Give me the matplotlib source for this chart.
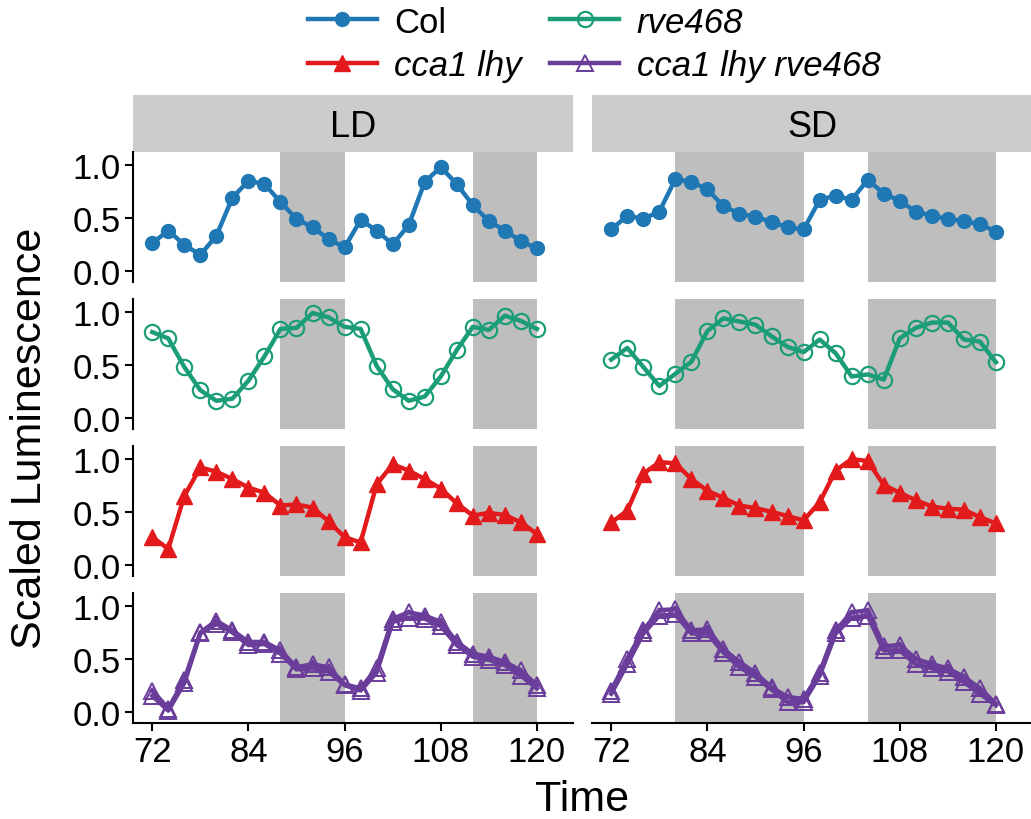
import matplotlib
matplotlib.use("Agg")
import matplotlib.pyplot as plt
from matplotlib.lines import Line2D

plt.rcParams['font.family'] = ['Liberation Sans', 'DejaVu Sans']

# --- data ---
time = [72, 74, 76, 78, 80, 82, 84, 86, 88, 90, 92, 94, 96,
        98, 100, 102, 104, 106, 108, 110, 112, 114, 116, 118, 120]

col_ld = [0.26, 0.38, 0.245, 0.15, 0.33, 0.69, 0.85, 0.82, 0.65, 0.49, 0.41, 0.30, 0.22,
          0.48, 0.38, 0.25, 0.43, 0.84, 0.98, 0.82, 0.62, 0.47, 0.38, 0.28, 0.21]
col_sd = [0.39, 0.52, 0.49, 0.56, 0.865, 0.84, 0.77, 0.61, 0.54, 0.51, 0.46, 0.41, 0.39,
          0.67, 0.71, 0.67, 0.86, 0.73, 0.66, 0.56, 0.52, 0.49, 0.47, 0.44, 0.37]

rve_ld = [0.81, 0.75, 0.48, 0.26, 0.16, 0.18, 0.35, 0.58, 0.84, 0.85, 0.99, 0.95, 0.86,
          0.84, 0.49, 0.27, 0.16, 0.20, 0.39, 0.64, 0.86, 0.83, 0.965, 0.915, 0.84]
rve_sd = [0.55, 0.66, 0.48, 0.30, 0.415, 0.53, 0.82, 0.94, 0.91, 0.88, 0.77, 0.67, 0.62,
          0.74, 0.61, 0.39, 0.41, 0.36, 0.75, 0.85, 0.90, 0.90, 0.74, 0.72, 0.525]

cl_ld = [0.26, 0.15, 0.65, 0.92, 0.88, 0.81, 0.73, 0.68, 0.56, 0.57, 0.54, 0.41, 0.26,
         0.21, 0.76, 0.95, 0.89, 0.81, 0.72, 0.58, 0.465, 0.49, 0.47, 0.40, 0.29]
cl_sd = [0.40, 0.51, 0.86, 0.97, 0.96, 0.81, 0.70, 0.63, 0.56, 0.535, 0.50, 0.46, 0.42,
         0.59, 0.89, 1.00, 0.98, 0.755, 0.68, 0.61, 0.55, 0.53, 0.52, 0.45, 0.39]

# two replicate lines of the triple mutant
clr_ld_a = [0.20, 0.03, 0.30, 0.75, 0.86, 0.77, 0.66, 0.66, 0.58, 0.42, 0.45, 0.42, 0.26,
            0.22, 0.41, 0.88, 0.94, 0.91, 0.85, 0.66, 0.55, 0.52, 0.47, 0.39, 0.25]
clr_ld_b = [0.15, 0.01, 0.27, 0.74, 0.83, 0.75, 0.63, 0.64, 0.55, 0.40, 0.41, 0.38, 0.25,
            0.20, 0.37, 0.85, 0.89, 0.88, 0.81, 0.63, 0.52, 0.49, 0.44, 0.34, 0.22]
clr_sd_a = [0.20, 0.50, 0.77, 0.96, 0.97, 0.77, 0.78, 0.59, 0.47, 0.365, 0.23, 0.14, 0.12,
            0.37, 0.77, 0.94, 0.96, 0.62, 0.63, 0.50, 0.45, 0.41, 0.33, 0.22, 0.075]
clr_sd_b = [0.17, 0.45, 0.74, 0.91, 0.92, 0.74, 0.74, 0.56, 0.42, 0.33, 0.21, 0.09, 0.09,
            0.34, 0.74, 0.89, 0.91, 0.58, 0.58, 0.45, 0.41, 0.38, 0.28, 0.17, 0.06]

dark_ld = [(88, 96), (112, 120)]
dark_sd = [(80, 96), (104, 120)]

conditions = ["LD", "SD"]
genotypes = ["Col", "rve468", "cca1 lhy", "cca1 lhy rve468"]

series = {
    ("LD", "Col"): [col_ld], ("SD", "Col"): [col_sd],
    ("LD", "rve468"): [rve_ld], ("SD", "rve468"): [rve_sd],
    ("LD", "cca1 lhy"): [cl_ld], ("SD", "cca1 lhy"): [cl_sd],
    ("LD", "cca1 lhy rve468"): [clr_ld_a, clr_ld_b],
    ("SD", "cca1 lhy rve468"): [clr_sd_a, clr_sd_b],
}
darks = {"LD": dark_ld, "SD": dark_sd}

styles = {
    "Col": dict(color="#1f78b4", marker="o", markersize=10, markerfacecolor="#1f78b4"),
    "rve468": dict(color="#1b9e77", marker="o", markersize=11, markerfacecolor="none",
                   markeredgewidth=1.6),
    "cca1 lhy": dict(color="#e31a1c", marker="^", markersize=11, markerfacecolor="#e31a1c"),
    "cca1 lhy rve468": dict(color="#6a3d9a", marker="^", markersize=12, markerfacecolor="none",
                            markeredgewidth=1.4),
}

W, H = 1031, 820
fig = plt.figure(figsize=(W / 100, H / 100), dpi=100)

col_x = [(133, 440), (592, 440)]
row_y = [153, 300, 447, 594]
row_h = 130

for ci, cond in enumerate(conditions):
    x0, w = col_x[ci]
    # strip
    sax = fig.add_axes([x0 / W, 1 - 153 / H, w / W, 57 / H])
    sax.set_facecolor("#cccccc")
    sax.set_xticks([]); sax.set_yticks([])
    for s in sax.spines.values():
        s.set_visible(False)
    sax.text(0.5, 0.45, cond, ha="center", va="center", fontsize=26, transform=sax.transAxes)

    for ri, g in enumerate(genotypes):
        y0 = row_y[ri]
        ax = fig.add_axes([x0 / W, 1 - (y0 + row_h) / H, w / W, row_h / H])
        for a, b in darks[cond]:
            ax.axvspan(a, b, color="#bebebe", lw=0, zorder=0)
        for vals in series[(cond, g)]:
            ax.plot(time, vals, lw=3.2, zorder=3, **styles[g])
        ax.set_xlim(69.6, 124.5)
        ax.set_ylim(-0.107, 1.123)
        for s in ["top", "right"]:
            ax.spines[s].set_visible(False)
        ax.spines["left"].set_linewidth(1.5)
        ax.spines["bottom"].set_linewidth(1.5)
        ax.tick_params(width=1.5, length=6, labelsize=25, direction="out", pad=3)
        ax.set_xticks([72, 84, 96, 108, 120])
        ax.set_yticks([0.0, 0.5, 1.0])
        ax.set_yticklabels(["0.0", "0.5", "1.0"])
        if ci == 1:
            ax.spines["left"].set_visible(False)
            ax.tick_params(left=False, labelleft=False)
        if ri < 3:
            ax.spines["bottom"].set_visible(False)
            ax.tick_params(bottom=False, labelbottom=False)

fig.text(30 / W, 1 - 438 / H, "Scaled Luminescence", rotation=90, ha="center", va="center",
         fontsize=31)
fig.text(582 / W, 1 - 800 / H, "Time", ha="center", va="center", fontsize=31)

handles = []
labels = []
for g in ["Col", "cca1 lhy", "rve468", "cca1 lhy rve468"]:
    handles.append(Line2D([], [], lw=3.2, **styles[g]))
    labels.append(g)
leg = fig.legend(handles, labels, ncol=2, loc="upper center", bbox_to_anchor=(594 / W, 1.03),
                 frameon=False, fontsize=25, handlelength=2.0, columnspacing=0.8,
                 labelspacing=0.3, handletextpad=0.5)
for t in leg.get_texts():
    if t.get_text() != "Col":
        t.set_fontstyle("italic")

fig.savefig("out.png", dpi=100)
